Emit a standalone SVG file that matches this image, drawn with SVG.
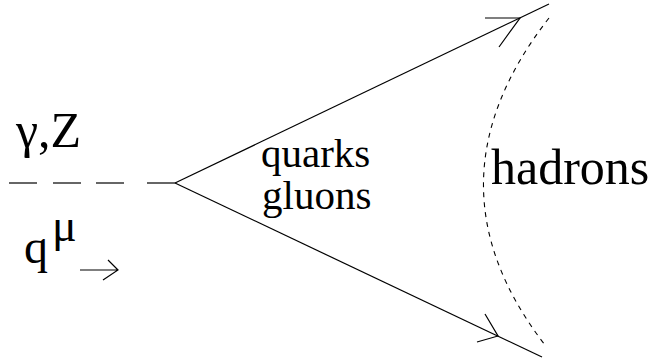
<svg xmlns="http://www.w3.org/2000/svg" width="657" height="358" viewBox="0 0 657 358">
<style>
.ln{stroke:#000;stroke-width:1.2;fill:none}
.dc{stroke:#000;stroke-width:1.1;fill:none;stroke-dasharray:5 5}
.u{font-family:"Liberation Serif","DejaVu Serif",serif;fill:#000}
</style>
<rect width="657" height="358" fill="#fff"/>
<g id="connectors">
<g id="boson">
<line class="ln" x1="9" y1="183" x2="37" y2="183"/>
<line class="ln" x1="53" y1="183" x2="81" y2="183"/>
<line class="ln" x1="96" y1="183" x2="124" y2="183"/>
<line class="ln" x1="147" y1="183" x2="175" y2="183"/>
</g>
<g id="quark-upper">
<line class="ln" x1="175" y1="183" x2="549" y2="4"/>
<path class="ln" d="M485 18 L520 18 L499 47"/>
</g>
<g id="quark-lower">
<line class="ln" x1="175" y1="183" x2="542" y2="357"/>
<path class="ln" d="M485 314 L498 336 L477 342"/>
</g>
<path id="momentum-arrow" class="ln" d="M80 270 L118 270 M108 260 L118 270 L103 280"/>
</g>
<g id="hadronization">
<path class="dc" d="M549 18 Q420 183 545 345"/>
</g>
<g id="label-boson"><text class="u" x="16" y="147" font-size="50">γ,Z</text></g>
<g id="label-momentum"><text class="u" x="24" y="263" font-size="48">q</text><text class="u" x="52" y="241" font-size="46">μ</text></g>
<g id="label-partons"><text class="u" x="261" y="167" font-size="41">quarks</text><text class="u" x="262" y="209" font-size="41">gluons</text></g>
<g id="label-hadrons"><text class="u" x="491" y="184" font-size="50">hadrons</text></g>
</svg>
